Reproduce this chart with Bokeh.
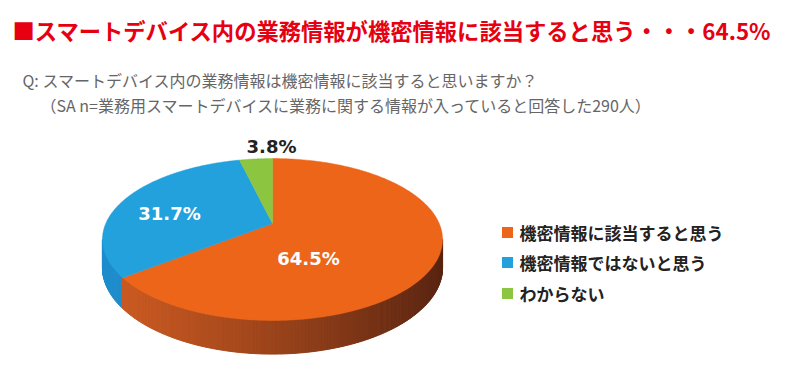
import numpy as np
from bokeh.plotting import figure
from bokeh.models import Range1d, ColumnDataSource
from bokeh.core.properties import value
from bokeh.embed import file_html
from bokeh.resources import INLINE

# ---- data ----
title_text = "■スマートデバイス内の業務情報が機密情報に該当すると思う・・・64.5%"
question_lines = ["Q: スマートデバイス内の業務情報は機密情報に該当すると思いますか？",
                  "（SA n=業務用スマートデバイスに業務に関する情報が入っていると回答した290人）"]
categories = ["機密情報に該当すると思う", "機密情報ではないと思う", "わからない"]
values = [64.5, 31.7, 3.8]
value_labels = ["64.5%", "31.7%", "3.8%"]

# ---- style ----
top_colors = ["#ec6519", "#22a1dd", "#8cc540"]
side_light = ["#cd5b22", "#1f8dcc", "#78ad33"]
side_dark = ["#5a2511", "#1a78b0", "#5f8a28"]
label_colors = ["white", "white", "#222222"]

W, H = 784, 371
p = figure(width=W, height=H, output_backend="svg", toolbar_location=None,
           x_range=Range1d(0, W), y_range=Range1d(H, 0),
           min_border=0, outline_line_color=None)
p.axis.visible = False
p.grid.visible = False
p.background_fill_color = "white"
p.border_fill_color = "white"

# pie geometry (perspective ellipse)
cx, cy = 272.0, 223.0
a, b, k = 166.7, 77.8, 0.1975
depth = 27.0

def proj(theta, h=0.0):
    u = np.cos(theta)
    v = -np.sin(theta)
    s = 1.0 / (1.0 - k * v)
    return cx + a * u * s, cy + b * v * s + h * s

vals = np.array(values, dtype=float)
cum = np.concatenate([[0], np.cumsum(vals)]) / vals.sum()
starts = np.pi / 2 - 2 * np.pi * cum[:-1]
ends = np.pi / 2 - 2 * np.pi * cum[1:]

def slice_of(theta):
    frac = ((np.pi / 2 - theta) / (2 * np.pi)) % 1.0
    return min(int(np.searchsorted(cum[1:], frac, side="right")), len(vals) - 1)

def hex2rgb(h):
    h = h.lstrip("#")
    return np.array([int(h[i:i + 2], 16) for i in (0, 2, 4)], dtype=float)

def rgb2hex(c):
    return "#%02x%02x%02x" % tuple(int(round(x)) for x in c)

# side strips
t0 = np.pi + np.arcsin(k)
t1 = 2 * np.pi - np.arcsin(k)
n = 240
th = np.linspace(t0, t1, n + 1)
xl, _ = proj(t0)
xr, _ = proj(t1)
sx, sy, sc = [], [], []
for j in range(n):
    ta, tb = th[j], th[j + 1]
    xa, ya = proj(ta)
    xb, yb = proj(tb)
    xa2, ya2 = proj(ta, depth)
    xb2, yb2 = proj(tb, depth)
    i = slice_of(0.5 * (ta + tb))
    t = ((xa + xb) / 2 - xl) / (xr - xl)
    t = min(max(t, 0), 1) ** 1.2
    col = rgb2hex(hex2rgb(side_light[i]) * (1 - t) + hex2rgb(side_dark[i]) * t)
    sx.append([xa, xb, xb2, xa2])
    sy.append([ya, yb, yb2, ya2])
    sc.append(col)
p.patches(xs="xs", ys="ys", fill_color="c", line_color="c", line_width=1,
          source=ColumnDataSource(dict(xs=sx, ys=sy, c=sc)))

# top face slices
tx, ty = [], []
for i in range(len(vals)):
    angs = np.linspace(starts[i], ends[i], 200)
    px, py = proj(angs)
    tx.append([cx] + list(px))
    ty.append([cy] + list(py))
p.patches(xs="xs", ys="ys", fill_color="c", line_color="c", line_width=0.5,
          source=ColumnDataSource(dict(xs=tx, ys=ty, c=top_colors)))

# value labels
lab_x = [308, 169, 271]
lab_y = [258, 213, 146]
p.text(x=lab_x, y=lab_y, text=value_labels, text_color=label_colors,
       text_font=value("DejaVu Sans"), text_font_style="bold", text_font_size="18px",
       text_align="center", text_baseline="middle")

# title
p.text(x=[12], y=[29], text=[title_text], text_color="#e60012",
       text_font=value("Noto Sans CJK JP"), text_font_style="bold", text_font_size="22.3px",
       text_align="left", text_baseline="middle")

# question
p.text(x=[22, 40], y=[79, 104], text=question_lines, text_color="#666666",
       text_font=value("Noto Sans CJK JP"), text_font_size="16px",
       text_align="left", text_baseline="middle")

# legend
leg_y = [232, 262, 293]
p.rect(x=[507] * 3, y=leg_y, width=11, height=11, fill_color=top_colors, line_color=None)
p.text(x=[519] * 3, y=leg_y, text=categories, text_color="#222222",
       text_font=value("Noto Sans CJK JP"), text_font_style="bold", text_font_size="17px",
       text_align="left", text_baseline="middle")

open("out.html", "w").write(file_html(p, INLINE))
